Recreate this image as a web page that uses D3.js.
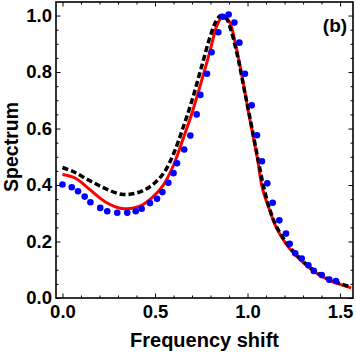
<!DOCTYPE html>
<html>
<head>
<meta charset="utf-8">
<script src="https://cdn.jsdelivr.net/npm/d3@7"></script>
<style>
  body { margin: 0; background: #fff; }
  text { font-family: "Liberation Sans", Arial, sans-serif; font-weight: bold; }
</style>
</head>
<body>
<div id="chart"></div>
<script>
// blue points (measured)
var dotsX = [0.0, 0.05, 0.084, 0.12, 0.151, 0.204, 0.242, 0.296, 0.35, 0.396, 0.428, 0.473, 0.511, 0.54, 0.572,
  0.6, 0.619, 0.658, 0.691, 0.725, 0.745, 0.781, 0.806, 0.842, 0.866, 0.898, 0.929, 0.956, 0.986, 1.023, 1.051,
  1.078, 1.107, 1.136, 1.172, 1.208, 1.228, 1.258, 1.293, 1.329, 1.358, 1.401, 1.442, 1.478];
var dotsY = [0.402, 0.392, 0.378, 0.359, 0.339, 0.319, 0.307, 0.302, 0.302, 0.307, 0.316, 0.336, 0.351, 0.375, 0.408,
  0.442, 0.477, 0.526, 0.575, 0.650, 0.719, 0.794, 0.870, 0.941, 0.996, 1.004, 0.975, 0.904, 0.794, 0.682, 0.576,
  0.484, 0.406, 0.337, 0.275, 0.228, 0.192, 0.158, 0.140, 0.116, 0.096, 0.081, 0.065, 0.060];

// red solid curve
var redX = [0.0, 0.07, 0.14, 0.23, 0.32, 0.41, 0.48, 0.545, 0.60, 0.65, 0.70, 0.75, 0.794, 0.839, 0.869, 0.902, 0.938,
  0.974, 1.01, 1.055, 1.08, 1.12, 1.155, 1.21, 1.28, 1.35, 1.44, 1.56];
var redY = [0.437, 0.424, 0.388, 0.341, 0.317, 0.323, 0.353, 0.40, 0.47, 0.56, 0.655, 0.765, 0.866, 0.972, 0.998, 0.978, 0.890,
  0.772, 0.642, 0.488, 0.39, 0.31, 0.25, 0.19, 0.138, 0.098, 0.063, 0.036];

// black dashed curve
var blackX = [0.0, 0.06, 0.14, 0.23, 0.32, 0.39, 0.45, 0.50, 0.55, 0.60, 0.65, 0.70, 0.75, 0.80, 0.83, 0.855, 0.885, 0.91,
  0.947, 0.983, 1.02, 1.06, 1.085, 1.12, 1.155, 1.21, 1.28, 1.35, 1.44, 1.56];
var blackY = [0.462, 0.447, 0.418, 0.388, 0.367, 0.370, 0.385, 0.408, 0.445, 0.51, 0.60, 0.70, 0.815, 0.93, 0.98, 1.0, 0.99, 0.949,
  0.854, 0.736, 0.615, 0.48, 0.40, 0.314, 0.255, 0.196, 0.143, 0.102, 0.066, 0.039];

var xTicks = [0.0, 0.5, 1.0, 1.5];
var yTicks = [0.0, 0.2, 0.4, 0.6, 0.8, 1.0];
var xMinor = [0.1, 0.2, 0.3, 0.4, 0.6, 0.7, 0.8, 0.9, 1.1, 1.2, 1.3, 1.4];
var yMinor = [0.05, 0.1, 0.15, 0.25, 0.3, 0.35, 0.45, 0.5, 0.55, 0.65, 0.7, 0.75, 0.85, 0.9, 0.95];

var W = 356, H = 354;
var margin = {top: 2, right: 3, bottom: 56, left: 56},
    width = W - margin.left - margin.right,
    height = H - margin.top - margin.bottom;

var svg = d3.select("#chart")
  .append("svg")
    .attr("width", W)
    .attr("height", H)
  .append("g")
    .attr("transform", "translate(" + margin.left + "," + margin.top + ")");

var x = d3.scaleLinear().domain([-0.035, 1.57]).range([0, width]);
var y = d3.scaleLinear().domain([0, 1.048]).range([height, 0]);

function styleAxis(g) {
  g.select(".domain").remove();
  g.selectAll("line").attr("stroke", "#000").attr("stroke-width", 1);
  g.selectAll("text").style("font-size", "18.5px").attr("fill", "#000");
}

// bottom
svg.append("g").attr("transform", "translate(0," + height + ")")
  .call(d3.axisBottom(x).tickValues(xTicks).tickSize(-4.5).tickPadding(7).tickFormat(d3.format(".1f")))
  .call(styleAxis);
svg.append("g").attr("transform", "translate(0," + height + ")")
  .call(d3.axisBottom(x).tickValues(xMinor).tickSize(-2.5).tickFormat(""))
  .call(styleAxis);
// top
svg.append("g")
  .call(d3.axisTop(x).tickValues(xTicks).tickSize(-4.5).tickFormat(""))
  .call(styleAxis);
svg.append("g")
  .call(d3.axisTop(x).tickValues(xMinor).tickSize(-2.5).tickFormat(""))
  .call(styleAxis);
// left
svg.append("g")
  .call(d3.axisLeft(y).tickValues(yTicks).tickSize(-4.5).tickPadding(4).tickFormat(d3.format(".1f")))
  .call(styleAxis);
svg.append("g")
  .call(d3.axisLeft(y).tickValues(yMinor).tickSize(-2.5).tickFormat(""))
  .call(styleAxis);
// right
svg.append("g").attr("transform", "translate(" + width + ",0)")
  .call(d3.axisRight(y).tickValues(yTicks).tickSize(-4.5).tickFormat(""))
  .call(styleAxis);
svg.append("g").attr("transform", "translate(" + width + ",0)")
  .call(d3.axisRight(y).tickValues(yMinor).tickSize(-2.5).tickFormat(""))
  .call(styleAxis);

var line = d3.line()
  .x(function(d) { return x(d[0]) })
  .y(function(d) { return y(d[1]) })
  .curve(d3.curveCatmullRom);

svg.append("path")
  .datum(redX.map(function(v, i) { return [v, redY[i]] }))
  .attr("d", line)
  .attr("fill", "none")
  .attr("stroke", "#ff0000")
  .attr("stroke-width", 3);

svg.append("path")
  .datum(blackX.map(function(v, i) { return [v, blackY[i]] }))
  .attr("d", line)
  .attr("fill", "none")
  .attr("stroke", "#000")
  .attr("stroke-width", 3.5)
  .attr("stroke-dasharray", "6,3");

svg.selectAll("circle")
  .data(dotsX.map(function(v, i) { return [v, dotsY[i]] }))
  .enter()
  .append("circle")
    .attr("cx", function(d) { return x(d[0]) })
    .attr("cy", function(d) { return y(d[1]) })
    .attr("r", 3.3)
    .style("fill", "#0000ff");

// frame
svg.append("rect")
  .attr("x", 0).attr("y", 0)
  .attr("width", width).attr("height", height)
  .attr("fill", "none")
  .attr("stroke", "#000")
  .attr("stroke-width", 1.6);

svg.append("text")
  .attr("text-anchor", "middle")
  .attr("x", width / 2)
  .attr("y", 347 - margin.top)
  .style("font-size", "20px")
  .text("Frequency shift");

svg.append("text")
  .attr("text-anchor", "middle")
  .attr("transform", "rotate(-90)")
  .attr("x", -(147 - margin.top))
  .attr("y", -margin.left + 18)
  .style("font-size", "19.5px")
  .text("Spectrum");

svg.append("text")
  .attr("text-anchor", "middle")
  .attr("x", 335 - margin.left)
  .attr("y", 32 - margin.top)
  .style("font-size", "19px")
  .text("(b)");
</script>
</body>
</html>
